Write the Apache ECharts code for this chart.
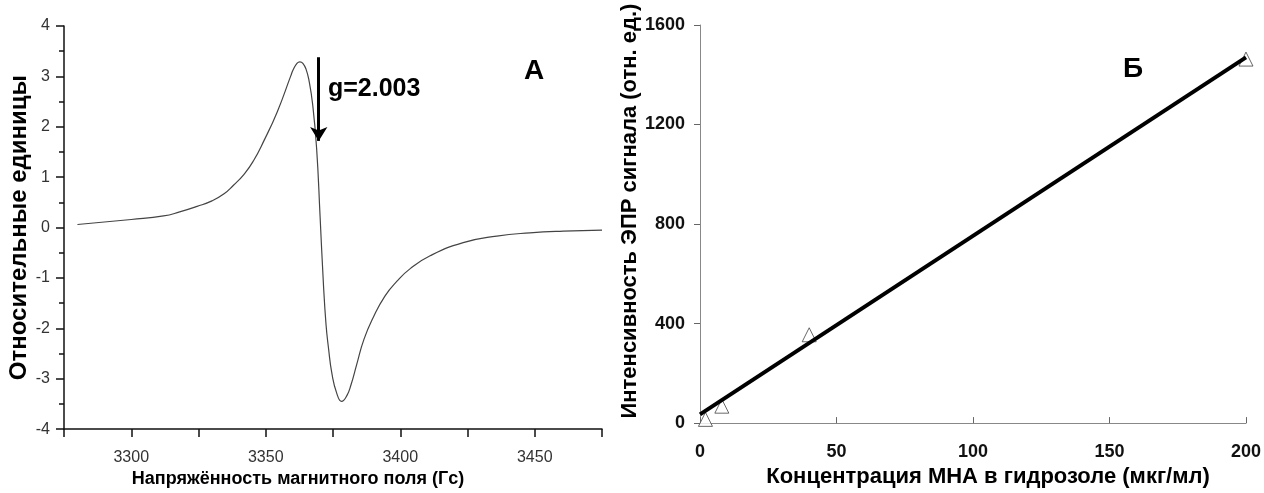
<!DOCTYPE html>
<html>
<head>
<meta charset="utf-8">
<script src="https://cdn.jsdelivr.net/npm/echarts@6/dist/echarts.min.js"></script>
<style>html,body{margin:0;padding:0;background:#fff}#c{width:1264px;height:493px}</style>
</head>
<body>
<div id="c"></div>
<script>
// ---- Panel A: EPR spectrum (field in G, relative units) ----
const fieldG = [3280, 3300, 3312, 3318, 3324.5, 3330, 3334.5, 3338, 3342, 3345.5, 3349.3, 3354.3, 3359.3, 3360.1, 3361.6, 3362.7, 3363.8, 3365.0, 3366.1, 3367.4, 3368.9, 3370.2, 3371.4, 3372.4, 3373.3, 3374.6, 3376.4, 3378.2, 3380.2, 3381.7, 3383.8, 3386.5, 3390.0, 3394.3, 3398.7, 3403.6, 3411.1, 3423.4, 3435.9, 3448.2, 3460.6, 3475];
const eprSignal = [0.06, 0.16, 0.23, 0.31, 0.42, 0.53, 0.67, 0.84, 1.06, 1.33, 1.72, 2.30, 3.01, 3.12, 3.26, 3.29, 3.26, 3.14, 2.91, 2.46, 1.58, 0.22, -1.08, -1.92, -2.38, -2.90, -3.29, -3.45, -3.33, -3.12, -2.72, -2.22, -1.78, -1.36, -1.07, -0.82, -0.56, -0.30, -0.17, -0.105, -0.07, -0.05];
const fieldTicks = [3300, 3350, 3400, 3450];
const relTicks = [-4, -3, -2, -1, 0, 1, 2, 3, 4];
const gArrow = {field: 3369.7, from: 3.38, to: 1.72};
const gLabel = 'g=2.003';

// ---- Panel B: EPR intensity vs concentration ----
const concMNA = [2, 8, 40, 200];
const intensity = [15, 68, 355, 1463];
const fitConc = [0, 200];
const fitIntensity = [35, 1470];
const concTicks = [0, 50, 100, 150, 200];
const intTicks = [0, 400, 800, 1200, 1600];

const FONT = '"Liberation Sans", Arial, sans-serif';
const chart = echarts.init(document.getElementById('c'), null, {renderer: 'canvas'});

chart.setOption({
  animation: false,
  backgroundColor: '#fff',
  textStyle: {fontFamily: FONT},
  title: [
    {text: 'А', left: 519, top: 52, padding: 5, textStyle: {fontFamily: FONT, fontSize: 28, fontWeight: 'bold', color: '#000'}},
    {text: 'Б', left: 1118, top: 50, padding: 5, textStyle: {fontFamily: FONT, fontSize: 28, fontWeight: 'bold', color: '#000'}},
    {text: gLabel, left: 323, top: 72, padding: 5, textStyle: {fontFamily: FONT, fontSize: 25, fontWeight: 'bold', color: '#000'}}
  ],
  grid: [
    {left: 64, top: 26, width: 538, height: 410},
    {left: 700, top: 25, width: 548, height: 408}
  ],
  xAxis: [
    {
      gridIndex: 0, type: 'value', min: 3275, max: 3475, interval: 25,
      name: 'Напряжённость магнитного поля (Гс)', nameLocation: 'middle', nameGap: 36,
      nameTextStyle: {fontFamily: FONT, fontSize: 18, fontWeight: 'bold', color: '#000', padding: [0, 70, 0, 0]},
      axisLine: {onZero: false, lineStyle: {color: '#111', width: 1.5}},
      axisTick: {show: true, length: 8, inside: false, lineStyle: {color: '#111', width: 1.5}},
      axisLabel: {margin: 20, fontSize: 16, color: '#333', fontFamily: FONT,
        formatter: v => fieldTicks.indexOf(v) >= 0 ? String(v) : ''},
      splitLine: {show: false}
    },
    {
      gridIndex: 1, type: 'value', min: 0, max: 200, interval: 50,
      name: 'Концентрация МНА в гидрозоле (мкг/мл)', nameLocation: 'middle', nameGap: 40,
      nameTextStyle: {fontFamily: FONT, fontSize: 22, fontWeight: 'bold', color: '#000', padding: [0, 0, 0, 30]},
      axisLine: {onZero: false, lineStyle: {color: '#888', width: 1}},
      axisTick: {show: true, length: 6, inside: true, lineStyle: {color: '#666', width: 1}},
      axisLabel: {margin: 20, fontSize: 18, fontWeight: 'bold', color: '#111', fontFamily: FONT,
        formatter: v => concTicks.indexOf(v) >= 0 ? String(v) : ''},
      splitLine: {show: false}
    }
  ],
  yAxis: [
    {
      gridIndex: 0, type: 'value', min: -4, max: 4, interval: 1,
      name: 'Относительные единицы', nameLocation: 'middle', nameGap: 29,
      nameTextStyle: {fontFamily: FONT, fontSize: 24, fontWeight: 'bold', color: '#000'},
      axisLine: {show: true, onZero: false, lineStyle: {color: '#111', width: 1.5}},
      axisTick: {show: true, length: 8, lineStyle: {color: '#111', width: 1.5}},
      minorTick: {show: true, splitNumber: 2, length: 5, lineStyle: {color: '#111', width: 1.5}},
      axisLabel: {margin: 14, fontSize: 16, color: '#333', fontFamily: FONT,
        formatter: v => relTicks.indexOf(v) >= 0 ? String(v) : ''},
      splitLine: {show: false}
    },
    {
      gridIndex: 1, type: 'value', min: 0, max: 1600, interval: 400,
      name: 'Интенсивность ЭПР сигнала (отн. ед.)', nameLocation: 'middle', nameGap: 58,
      nameTextStyle: {fontFamily: FONT, fontSize: 22, fontWeight: 'bold', color: '#000', padding: [0, 0, 0, 26]},
      axisLine: {show: true, onZero: false, lineStyle: {color: '#888', width: 1}},
      axisTick: {show: true, length: 6, lineStyle: {color: '#666', width: 1}},
      axisLabel: {margin: 15, fontSize: 18, fontWeight: 'bold', color: '#111', fontFamily: FONT,
        formatter: v => intTicks.indexOf(v) >= 0 ? String(v) : ''},
      splitLine: {show: false}
    }
  ],
  series: [
    {
      type: 'line', xAxisIndex: 0, yAxisIndex: 0,
      data: fieldG.map((f, i) => [f, eprSignal[i]]),
      smooth: 0.5, showSymbol: false,
      lineStyle: {color: '#444', width: 1.2},
      markLine: {
        silent: true, symbol: ['none', 'arrow'], symbolSize: [13, 14],
        label: {show: false},
        lineStyle: {color: '#000', width: 3, type: 'solid'},
        data: [[{coord: [gArrow.field, gArrow.from]}, {coord: [gArrow.field, gArrow.to]}]]
      },
      z: 3
    },
    {
      type: 'scatter', xAxisIndex: 1, yAxisIndex: 1,
      data: concMNA.map((c, i) => [c, intensity[i]]),
      symbol: 'triangle', symbolSize: 14,
      itemStyle: {color: '#fff', borderColor: '#444', borderWidth: 1},
      z: 2
    },
    {
      type: 'line', xAxisIndex: 1, yAxisIndex: 1,
      data: fitConc.map((c, i) => [c, fitIntensity[i]]),
      showSymbol: false,
      lineStyle: {color: '#000', width: 4},
      z: 3
    }
  ]
});
</script>
</body>
</html>
